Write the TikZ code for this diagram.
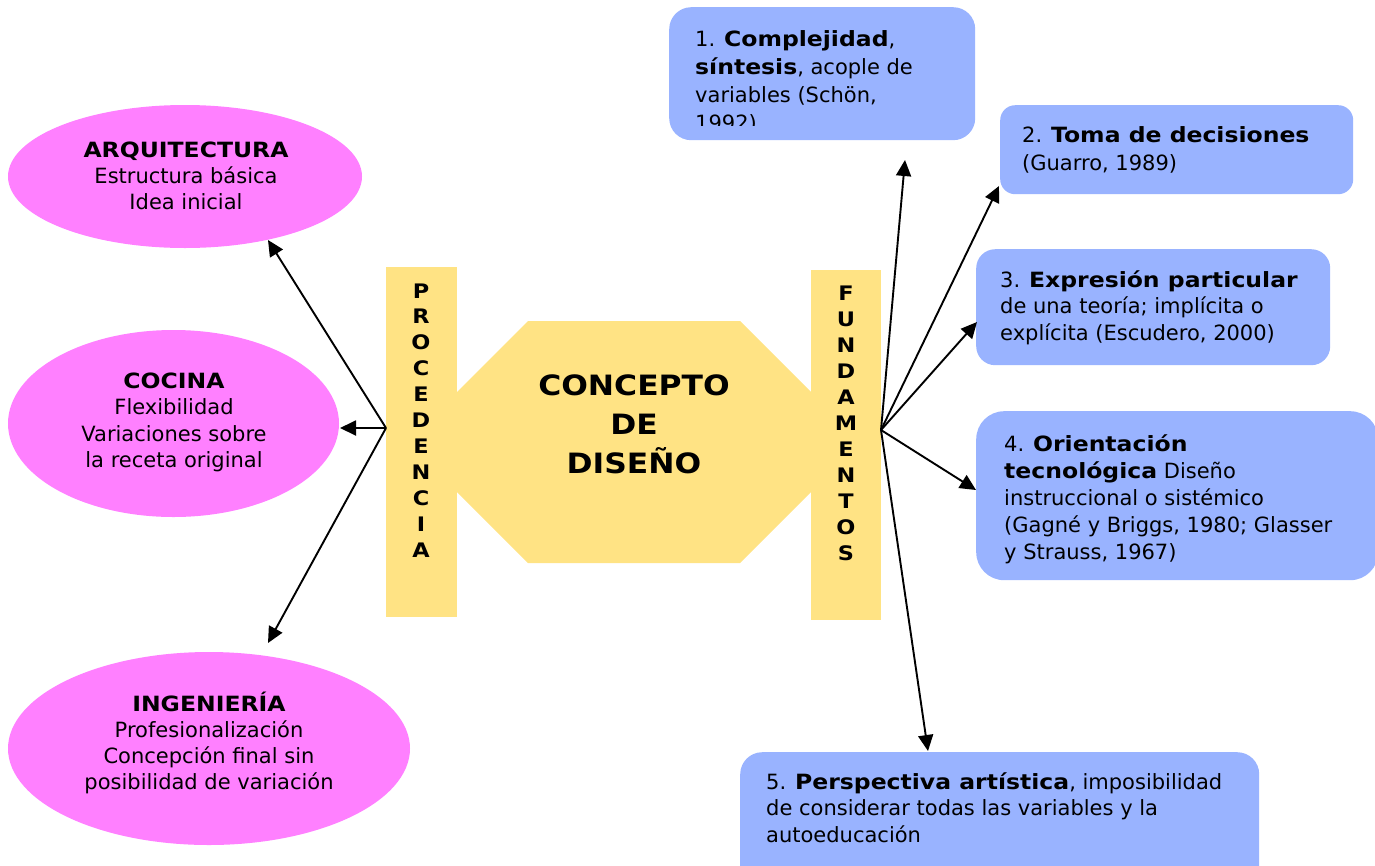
\documentclass[tikz,border=0pt]{standalone}
\usepackage{fontspec}
\setmainfont{DejaVu Sans}[BoldFeatures={FakeStretch=1.12}]
\usetikzlibrary{arrows.meta,shapes.geometric}
\definecolor{pinkfill}{RGB}{255,128,255}
\definecolor{sandfill}{RGB}{255,227,132}
\definecolor{bluefill}{RGB}{153,179,255}
\newcommand{\leftlines}[1]{\parbox[t]{600pt}{\raggedright #1}}
\newcommand{\midlines}[2]{\parbox[t]{#1}{\centering #2}}
\tikzset{
  oval/.style={ellipse, fill=pinkfill, inner sep=0pt},
  bar/.style={rectangle, fill=sandfill, inner sep=0pt, anchor=north west},
  card/.style={rectangle, fill=bluefill, inner sep=0pt, anchor=north west},
  bodytext/.style={inner sep=0pt, anchor=base west, font=\fontsize{21}{26.5}\selectfont},
  ovaltext/.style={inner sep=0pt, anchor=base, font=\fontsize{21}{26}\selectfont},
  vertword/.style={inner sep=0pt, anchor=base, font=\fontsize{20}{26}\selectfont\bfseries},
  conn/.style={line width=1.9pt, -{Triangle[length=16pt,width=15pt]}}
}
\begin{document}
\begin{tikzpicture}[x=1pt,y=-1pt]
\useasboundingbox (0,0) rectangle (1375,865);

% origin ellipses
\node[oval, minimum width=354pt, minimum height=143pt] (arq) at (185,176.5) {};
\node[oval, minimum width=331pt, minimum height=187pt] (coc) at (173.5,423.5) {};
\node[oval, minimum width=402pt, minimum height=193pt] (ing) at (209,748.5) {};
\node[ovaltext] (arqt) at (186,157) {\midlines{300pt}{\textbf{ARQUITECTURA}\\Estructura básica\\Idea inicial}};
\node[ovaltext, font=\fontsize{21}{26.5}\selectfont] (coct) at (174,388) {\midlines{300pt}{\textbf{COCINA}\\Flexibilidad\\Variaciones sobre\\la receta original}};
\node[ovaltext] (ingt) at (209,711) {\midlines{360pt}{\textbf{INGENIERÍA}\\Profesionalización\\Concepción final sin\\posibilidad de variación}};

% central octagon and side bars
\path[fill=sandfill] (457,392) -- (528,321) -- (740,321) -- (811,392)
  -- (811,492) -- (740,563) -- (528,563) -- (457,492) -- cycle;
\node[inner sep=0pt, anchor=base, font=\fontsize{28}{39}\selectfont\bfseries] (core) at (634,395)
  {\midlines{300pt}{CONCEPTO\\DE\\DISEÑO}};
\node[bar, minimum width=71pt, minimum height=350pt] (proc) at (386,267) {};
\node[bar, minimum width=70pt, minimum height=350pt] (fund) at (811,270) {};
\node[vertword, font=\fontsize{20}{25.9}\selectfont\bfseries] (proct) at (421,298)
  {\midlines{40pt}{P\\R\\O\\C\\E\\D\\E\\N\\C\\I\\A}};
\node[vertword] (fundt) at (846,300.5)
  {\midlines{40pt}{F\\U\\N\\D\\A\\M\\E\\N\\T\\O\\S}};

% foundation cards
\node[card, rounded corners=22pt, minimum width=306pt, minimum height=133pt] (c1) at (669,7) {};
\node[card, rounded corners=15pt, minimum width=353pt, minimum height=89pt] (c2) at (1000,105) {};
\node[card, rounded corners=19pt, minimum width=354pt, minimum height=116pt] (c3) at (976,249) {};
\node[card, rounded corners=28pt, minimum width=402pt, minimum height=169pt] (c4) at (976,411) {};
\node[card, rounded corners=22pt, minimum width=519pt, minimum height=150pt] (c5) at (740,752) {};

\begin{scope}
\clip (669,7) rectangle (975,125);
\node[bodytext, font=\fontsize{21}{28}\selectfont] (c1t) at (695,46)
  {\leftlines{1. \textbf{Complejidad},\\\textbf{síntesis}, acople de\\variables (Schön,\\1992)}};
\end{scope}
\node[bodytext, font=\fontsize{21}{28}\selectfont] (c2t) at (1022,142)
  {\leftlines{2. \textbf{Toma de decisiones}\\(Guarro, 1989)}};
\node[bodytext] (c3t) at (1000,287)
  {\leftlines{3. \textbf{Expresión particular}\\de una teoría; implícita o\\explícita (Escudero, 2000)}};
\node[bodytext, font=\fontsize{21}{27}\selectfont] (c4t) at (1004,451)
  {\leftlines{4. \textbf{Orientación}\\\textbf{tecnológica} Diseño\\instruccional o sistémico\\(Gagné y Briggs, 1980; Glasser\\y Strauss, 1967)}};
\node[bodytext] (c5t) at (766,789)
  {\leftlines{5. \textbf{Perspectiva artística}, imposibilidad\\de considerar todas las variables y la\\autoeducación}};

% connectors
\coordinate (pl) at (386,428);
\coordinate (pr) at (881,430);
\coordinate (tA) at (268,240);
\coordinate (tC) at (340,428);
\coordinate (tI) at (268,643);
\coordinate (t1) at (905,160);
\coordinate (t2) at (999,186);
\coordinate (t3) at (977,322);
\coordinate (t4) at (976,490);
\coordinate (t5) at (928,751);
\foreach \t in {tA,tC,tI} \draw[conn] (pl) -- (\t);
\foreach \t in {t1,t2,t3,t4,t5} \draw[conn] (pr) -- (\t);
\end{tikzpicture}
\end{document}
